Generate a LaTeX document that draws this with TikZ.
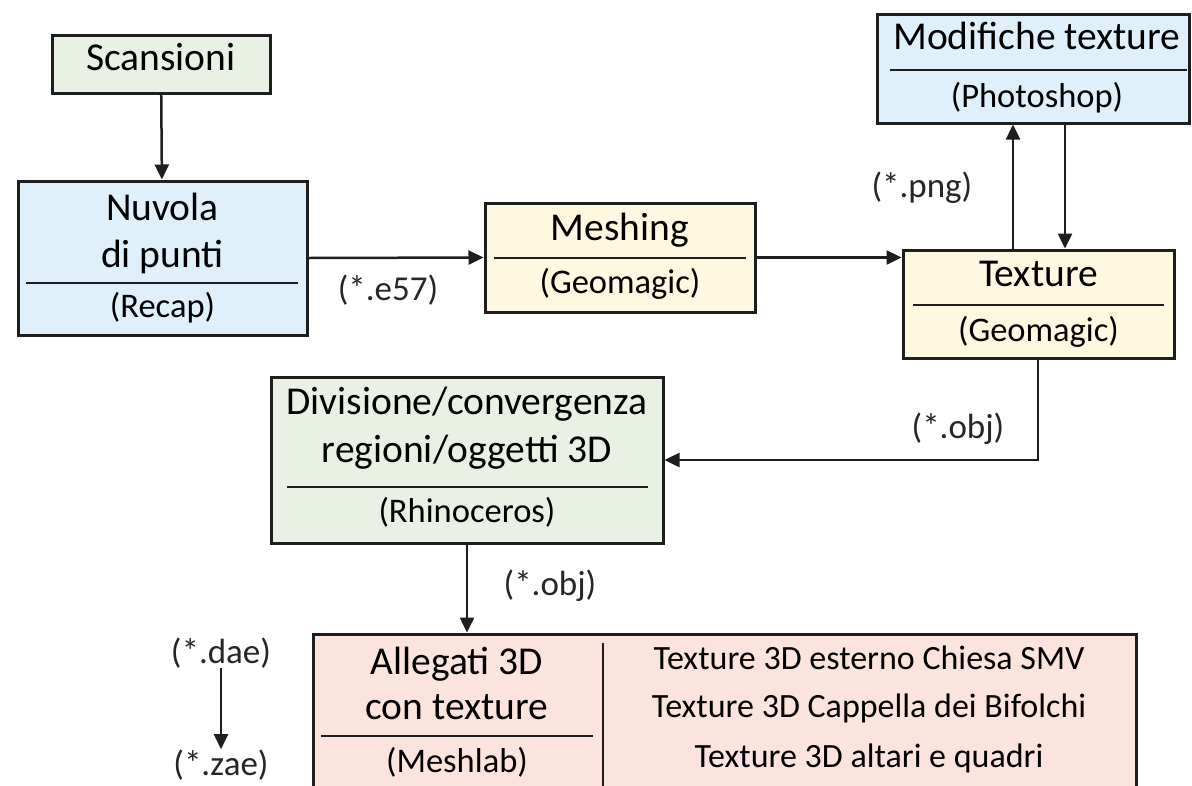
\documentclass[tikz,border=0pt]{standalone}
\usepackage{fontspec}
\setmainfont{Carlito}
\usetikzlibrary{arrows.meta}
\definecolor{edge}{HTML}{1E1E1E}
\definecolor{greenbox}{HTML}{E9F1E4}
\definecolor{bluebox}{HTML}{DFF0FB}
\definecolor{yellowbox}{HTML}{FEF8E0}
\definecolor{pinkbox}{HTML}{FCE4DE}
\tikzset{
  box/.style={draw=edge, line width=3pt, inner sep=0pt},
  title/.style={anchor=base, inner sep=0pt, font=\fontsize{39.5}{47}\selectfont},
  tool/.style={anchor=base, inner sep=0pt, font=\fontsize{34.5}{40}\selectfont},
  item/.style={anchor=base, inner sep=0pt, font=\fontsize{34}{40}\selectfont},
  ext/.style={anchor=base, inner sep=0pt, text=black!85, font=\fontsize{35}{40}\selectfont},
  flow/.style={-{Triangle[length=15pt, width=14pt]}, line width=2.5pt, draw=edge},
  rule/.style={line width=1.8pt, draw=edge},
}

\begin{document}
\begin{tikzpicture}[x=1pt, y=-1pt]
  \clip (0,0) rectangle (1192,785);

  % Boxes
  \node[box, fill=greenbox, minimum width=218, minimum height=58] (scan) at (161,64) {};
  \node[box, fill=bluebox, minimum width=289, minimum height=154] (nuvola) at (162.5,258) {};
  \node[box, fill=yellowbox, minimum width=270, minimum height=109] (meshing) at (620,257.5) {};
  \node[box, fill=yellowbox, minimum width=271, minimum height=108] (texture) at (1038.5,304) {};
  \node[box, fill=bluebox, minimum width=312, minimum height=109] (modifiche) at (1033,68.5) {};
  \node[box, fill=greenbox, minimum width=392, minimum height=166] (divisione) at (467,460) {};
  \node[box, fill=pinkbox, minimum width=823, minimum height=190] (allegati) at (724.5,729) {};

  % Texts
  \node[title] (scan t) at (161,70) {Scansioni};
  \node[title] (nuvola t1) at (162.5,220) {Nuvola};
  \node[title] (nuvola t2) at (162.5,267) {di punti};
  \node[tool] (nuvola s) at (162.5,317) {(Recap)};
  \node[title] (meshing t) at (620,240) {Meshing};
  \node[tool] (meshing s) at (620,293) {(Geomagic)};
  \node[title] (texture t) at (1038.5,286) {Texture};
  \node[tool] (texture s) at (1038.5,341) {(Geomagic)};
  \node[title] (modifiche t) at (1037,49) {Modifiche texture};
  \node[tool] (modifiche s) at (1037,107) {(Photoshop)};
  \node[title] (divisione t1) at (467,414) {Divisione/convergenza};
  \node[title] (divisione t2) at (467,462) {regioni/oggetti 3D};
  \node[tool] (divisione s) at (467,522) {(Rhinoceros)};
  \node[title] (allegati t1) at (457,674) {Allegati 3D};
  \node[title] (allegati t2) at (457,719) {con texture};
  \node[tool] (allegati s) at (457,772) {(Meshlab)};
  \node[item] (chiesa) at (869,669) {Texture 3D esterno Chiesa SMV};
  \node[item] (cappella) at (869,717) {Texture 3D Cappella dei Bifolchi};
  \node[item] (altari) at (869,767) {Texture 3D altari e quadri};

  % Dividers
  \draw[rule] (26,283) -- (298,283);
  \draw[rule] (494,258) -- (746,258);
  \draw[rule] (913,305) -- (1164,305);
  \draw[rule] (890,70) -- (1187,70);
  \draw[rule] (287,487) -- (648,487);
  \draw[rule] (321,736) -- (593,736);
  \draw[rule] (603,643) -- (603,790);

  % Formats
  \node[ext] (e57) at (388,300) {(*.e57)};
  \node[ext] (png) at (922,197) {(*.png)};
  \node[ext] (obj a) at (958,438) {(*.obj)};
  \node[ext] (obj b) at (550,595) {(*.obj)};
  \node[ext] (dae) at (221,663) {(*.dae)};
  \node[ext] (zae) at (221,775) {(*.zae)};

  % Connectors
  \coordinate (up) at (1013,0);
  \coordinate (down) at (1065,0);
  \coordinate (out) at (1038,0);
  \draw[flow] (scan) -- (nuvola);
  \draw[flow] (nuvola.east) -- (meshing.west);
  \draw[flow] (meshing.east) -- (meshing.east -| texture.west);
  \draw[flow] (texture.north -| up) -- (modifiche.south -| up);
  \draw[flow] (modifiche.south -| down) -- (texture.north -| down);
  \draw[flow] (texture.south -| out) |- (divisione.east);
  \draw[flow] (divisione.south) -- (divisione.south |- allegati.north);
  \draw[flow, line width=2pt] (dae) -- (zae);
\end{tikzpicture}
\end{document}
